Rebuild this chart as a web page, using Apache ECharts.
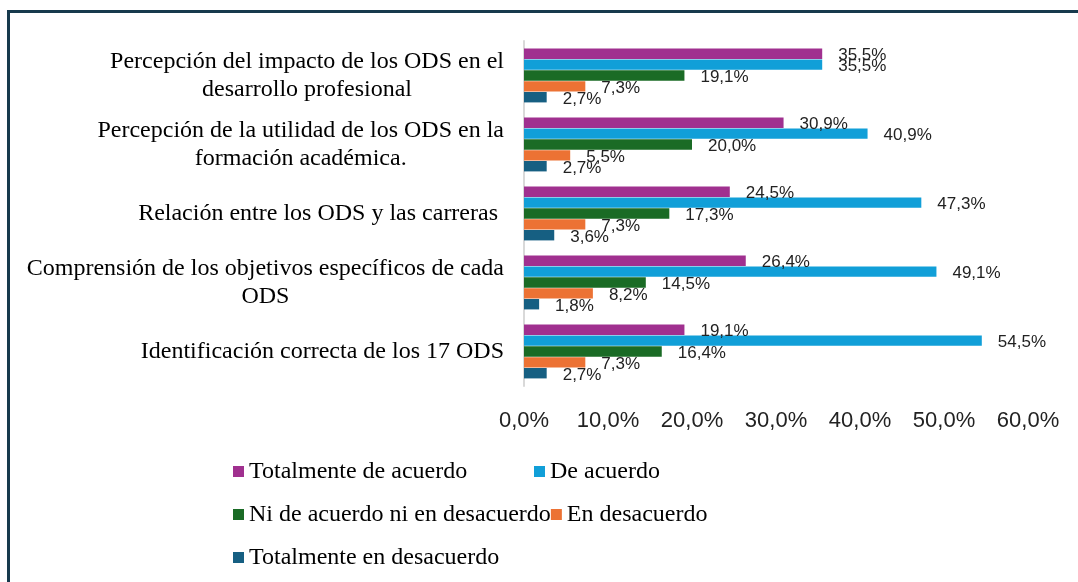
<!DOCTYPE html>
<html>
<head>
    <meta charset="utf-8">
    <title>ODS</title>
    <script src="https://cdn.jsdelivr.net/npm/echarts@6/dist/echarts.min.js"></script>
    <style>
        body { margin: 0; background: #fff; }
        #frame { position: absolute; left: 7px; top: 10px; width: 1100px; height: 600px;
                 border-top: 3px solid #173a4d; border-left: 3px solid #173a4d; }
        #chart { position: absolute; left: 0; top: 0; width: 1078px; height: 582px; }
    </style>
</head>
<body>
    <div id="frame"></div>
    <div id="chart"></div>
    <script type="text/javascript">
        // categories, top to bottom
        var categories = [
            'Percepción del impacto de los ODS en el\ndesarrollo profesional',
            'Percepción de la utilidad de los ODS en la\nformación académica.',
            'Relación entre los ODS y las carreras ',
            'Comprensión de los objetivos específicos de cada\nODS',
            'Identificación correcta de los 17 ODS'
        ];
        var seriesNames = ['Totalmente de acuerdo', 'De acuerdo', 'Ni de acuerdo ni en desacuerdo', 'En desacuerdo', 'Totalmente en desacuerdo'];
        var colors = ['#a0308f', '#119fd8', '#1a6b25', '#ec7234', '#165f82'];

        var totalmenteAcuerdo = [35.5, 30.9, 24.5, 26.4, 19.1];
        var deAcuerdo = [35.5, 40.9, 47.3, 49.1, 54.5];
        var neutral = [19.1, 20.0, 17.3, 14.5, 16.4];
        var enDesacuerdo = [7.3, 5.5, 7.3, 8.2, 7.3];
        var totalmenteDesacuerdo = [2.7, 2.7, 3.6, 1.8, 2.7];
        var allData = [totalmenteAcuerdo, deAcuerdo, neutral, enDesacuerdo, totalmenteDesacuerdo];

        function pct(v) {
            return v.toFixed(1).replace('.', ',') + '%';
        }

        var myChart = echarts.init(document.getElementById('chart'));

        var series = seriesNames.map(function (name, i) {
            return {
                name: name,
                type: 'bar',
                data: allData[i],
                barGap: '4%',
                barCategoryGap: '22%',
                itemStyle: { color: colors[i] },
                label: {
                    show: true,
                    position: 'right',
                    distance: 16,
                    offset: [0, 2],
                    formatter: function (p) { return pct(p.value); },
                    fontFamily: 'Liberation Sans',
                    fontSize: 17,
                    color: '#222'
                }
            };
        });

        var option = {
            animation: false,
            grid: { left: 524, right: 50, top: 41, bottom: 196 },
            legend: {
                data: seriesNames,
                left: 228,
                top: 445,
                width: 640,
                itemWidth: 11,
                itemHeight: 11,
                itemGap: 0,
                icon: 'rect',
                textStyle: {
                    fontFamily: 'Liberation Serif',
                    fontSize: 24,
                    color: '#000',
                    width: 285,
                    lineHeight: 43
                }
            },
            xAxis: {
                type: 'value',
                min: 0,
                max: 60,
                interval: 10,
                axisLine: { show: false },
                axisTick: { show: false },
                splitLine: { show: false },
                axisLabel: {
                    formatter: pct,
                    fontFamily: 'Liberation Sans',
                    fontSize: 22,
                    color: '#222',
                    margin: 24
                }
            },
            yAxis: {
                type: 'category',
                inverse: true,
                data: categories,
                axisLine: { show: true, lineStyle: { color: '#d9d9d9', width: 2 } },
                axisTick: { show: false },
                axisLabel: {
                    margin: 20,
                    align: 'right',
                    formatter: function (v) {
                        return v.split('\n').map(function (s) { return '{c|' + s + '}'; }).join('\n');
                    },
                    rich: {
                        c: {
                            align: 'center',
                            fontFamily: 'Liberation Serif',
                            fontSize: 24,
                            lineHeight: 28,
                            color: '#000'
                        }
                    }
                }
            },
            series: series
        };

        myChart.setOption(option);
    </script>
</body>
</html>
